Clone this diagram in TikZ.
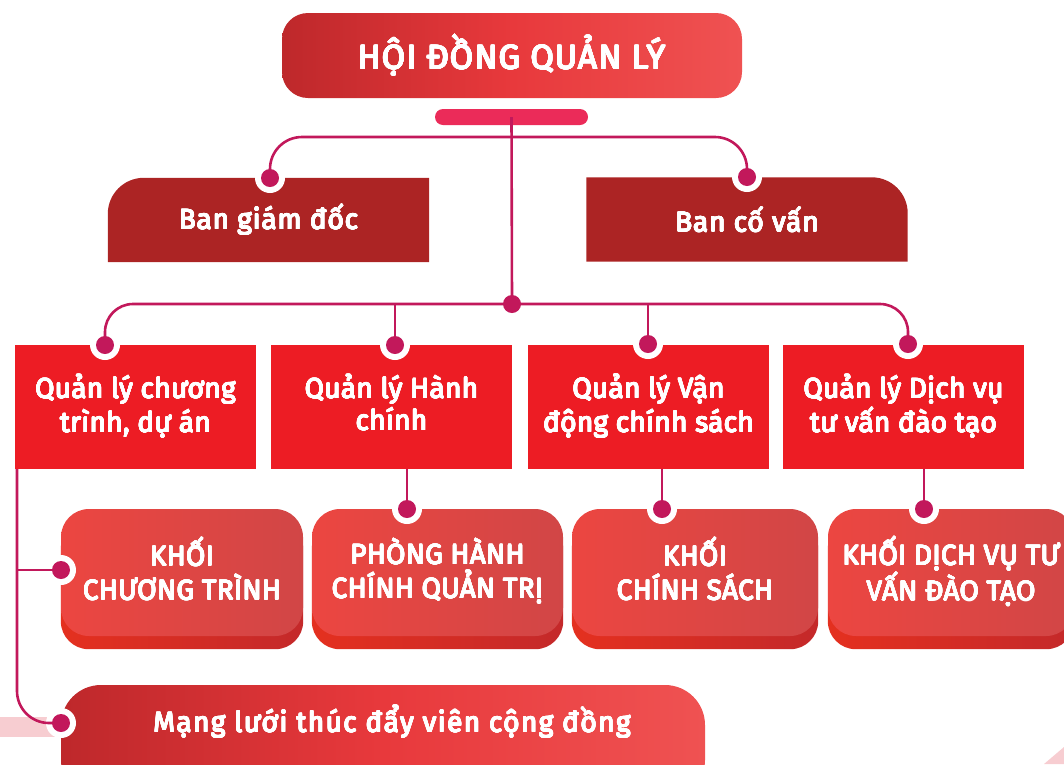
\documentclass[tikz,border=0pt]{standalone}
\usepackage{fontspec}
\setmainfont{Fira Sans}
\usepackage[copies]{contour}
\contourlength{0.45pt}
\contournumber{16}
\usetikzlibrary{backgrounds}

\definecolor{lnk}{HTML}{C2185B}
\definecolor{barpink}{HTML}{EB2B59}
\definecolor{bandark}{HTML}{AC2424}
\definecolor{qlred}{HTML}{ED1C24}
\definecolor{grL}{HTML}{BE282B}
\definecolor{grM}{HTML}{E8393C}
\definecolor{grR}{HTML}{EF5252}
\definecolor{faceL}{HTML}{EC4641}
\definecolor{faceR}{HTML}{D14646}
\definecolor{lipL}{HTML}{E4301F}
\definecolor{lipR}{HTML}{C4292A}
\definecolor{softpink}{HTML}{F7CDD1}

% medium-weight white text
\newcommand{\mt}[1]{\contour{white}{#1}}
\newcommand{\lowstrut}{\rule[-8pt]{0pt}{8pt}}

\tikzset{
  txt/.style={text=white, align=center, inner sep=0pt,
    font=\fontsize{28pt}{34pt}\selectfont\addfontfeature{LetterSpace=1}},
  hdrbox/.style={txt,
    font=\fontsize{34pt}{40pt}\selectfont\addfontfeature{LetterSpace=3},
    minimum width=460pt, minimum height=85pt, rounded corners=26pt,
    left color=grL, right color=grR, middle color=grM},
  banbox/.style={txt, minimum width=321pt, minimum height=84pt,
    font=\fontsize{28pt}{34pt}\selectfont\addfontfeature{LetterSpace=3}},
  qlbox/.style={txt, fill=qlred, minimum width=241pt, minimum height=124pt},
  khoibox/.style={txt, minimum width=246pt, minimum height=127pt,
    rounded corners=28pt, left color=faceL, right color=faceR},
  lip/.style={left color=lipL, right color=lipR, rounded corners=28pt},
  ring/.style={fill=white},
  dot/.style={circle, fill=lnk, inner sep=0pt, minimum size=18pt},
  link/.style={draw=lnk, line width=2.6pt}
}

\begin{document}
\begin{tikzpicture}[x=1pt, y=-1pt]
\useasboundingbox (0,0) rectangle (1064,764);
\clip (0,0) rectangle (1064,764);

% top
\node[hdrbox] (hdq) at (512,55.5) {\mt{HỘI ĐỒNG QUẢN LÝ}};
\node[fill=barpink, rounded corners=8pt, minimum width=153pt,
  minimum height=16pt, inner sep=0pt] (bar) at (511.5,117) {};

\node[banbox] (bgd) at (268.5,220) {\mt{Ban giám đốc}};
\node[banbox] (bcv) at (747,219.5) {\mt{Ban cố vấn}};

% middle row
\node[qlbox] (qct) at (135.5,406.5) {\mt{Quản lý chương}\\\mt{trình, dự án}};
\node[qlbox] (qhc) at (391.5,406.5) {\mt{Quản lý Hành}\\[-2pt]\mt{chính}\lowstrut};
\node[qlbox] (qvd) at (648.5,406.5) {\mt{Quản lý Vận}\\\mt{động chính sách}};
\node[qlbox] (qdv) at (903.5,406.5) {\mt{Quản lý Dịch vụ}\\\mt{tư vấn đào tạo}};

% bottom row
\node[khoibox, minimum width=242pt] (kct) at (182,572.5) {\mt{KHỐI}\\\mt{CHƯƠNG TRÌNH}\lowstrut};
\node[khoibox, minimum width=251pt] (kph) at (437.5,572.5) {\mt{PHÒNG HÀNH}\\\mt{CHÍNH QUẢN TRỊ}\lowstrut};
\node[khoibox] (kcs) at (695,572.5) {\mt{KHỐI}\\\mt{CHÍNH SÁCH}\lowstrut};
\node[khoibox] (kdv) at (951,572.5) {\mt{KHỐI DỊCH VỤ TƯ}\\\mt{VẤN ĐÀO TẠO}\lowstrut};

\node[txt, font=\fontsize{28pt}{34pt}\selectfont\addfontfeature{LetterSpace=5}]
  (mlv) at (392,722) {\mt{Mạng lưới thúc đẩy viên cộng đồng}};

\begin{scope}[on background layer]
  \fill[bandark] (bgd.west) [rounded corners=36pt] -- (bgd.north west)
    -- (bgd.north) [sharp corners] -- (bgd.north east) -- (bgd.south east)
    -- (bgd.south west) -- cycle;
  \fill[bandark] (bcv.east) [rounded corners=36pt] -- (bcv.north east)
    -- (bcv.north) [sharp corners] -- (bcv.north west) -- (bcv.south west)
    -- (bcv.south east) -- cycle;
  \foreach \k in {kct,kph,kcs,kdv}
    \path[lip] ([yshift=-12pt]\k.north west) rectangle ([yshift=-13pt]\k.south east);
  \fill[softpink] (0,717) rectangle (56,737);
  \fill[softpink] (1044,764) -- (1064,747) -- (1064,764) -- cycle;
  \path[left color=grL, right color=grR, middle color=grM,
    rounded corners=40pt] (61,685) rectangle (705,800);
\end{scope}

% dot points
\coordinate (pgd) at (270,178);
\coordinate (pcv) at (747,177);
\coordinate (jn) at (512,304);
\coordinate (pqct) at (105,345);
\coordinate (pqhc) at (395,345);
\coordinate (pqvd) at (648,344);
\coordinate (pqdv) at (908,344);
\coordinate (pkct) at (61,570);
\coordinate (pkph) at (407,509);
\coordinate (pkcs) at (662,509);
\coordinate (pkdv) at (924,509);
\coordinate (pmlv) at (61,723);
\coordinate (lft) at (17,469);

\foreach \p in {pgd,pcv,pqct,pqhc,pqvd,pqdv,pkct,pkph,pkcs,pkdv,pmlv}
  \fill[ring] (\p) circle (15pt);

% links
\draw[link] (bar.center) -- (jn);
\draw[link, rounded corners=32pt] (pgd) |- (512,137) -| (pcv);
\draw[link, rounded corners=28pt] (pqct) |- (jn) -| (pqdv);
\draw[link] (pqhc) -- (pqhc |- jn);
\draw[link] (pqvd) -- (pqvd |- jn);
\draw[link, rounded corners=32pt] (lft) |- (pmlv);
\draw[link] (lft |- pkct) -- (pkct);
\draw[link] (pkph |- qhc.south) -- (pkph);
\draw[link] (pkcs |- qvd.south) -- (pkcs);
\draw[link] (pkdv |- qdv.south) -- (pkdv);

\node[dot] at (jn) {};
\foreach \p in {pgd,pcv,pqct,pqhc,pqvd,pqdv,pkct,pkph,pkcs,pkdv,pmlv}
  \node[dot] (d-\p) at (\p) {};
\end{tikzpicture}
\end{document}
